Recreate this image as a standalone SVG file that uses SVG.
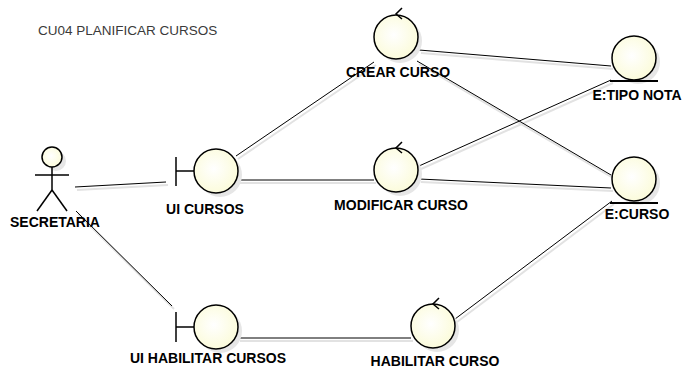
<svg xmlns="http://www.w3.org/2000/svg" width="683" height="372" viewBox="0 0 683 372">
<defs>
<radialGradient id="fillg" cx="0.45" cy="0.45" r="0.6">
<stop offset="0" stop-color="#ffffff"/>
<stop offset="1" stop-color="#fbfbd8"/>
</radialGradient>
</defs>
<style>
.lbl{font-family:"Liberation Sans",Arial,sans-serif;font-size:14px;font-weight:bold;fill:#000;text-anchor:middle}
.title{font-family:"Liberation Sans",Arial,sans-serif;font-size:13.5px;fill:#3a3a3a}
.shape{fill:url(#fillg);stroke:#000;stroke-width:1.5}
.shadow{fill:#e6e6e6;stroke:none}
.ln{stroke:#000;stroke-width:1;fill:none}
.lnsh{stroke:#e2e2e2;stroke-width:2;fill:none}
.st{stroke:#000;stroke-width:1.5;fill:none}
</style>
<rect width="683" height="372" fill="#fff"/>
<text class="title" x="38" y="35">CU04 PLANIFICAR CURSOS</text>
<g id="connectors">
<g transform="translate(2,3)">
<line class="lnsh" x1="75" y1="187" x2="166" y2="182"/>
<line class="lnsh" x1="76" y1="211" x2="172" y2="306"/>
<line class="lnsh" x1="236" y1="156" x2="374" y2="62"/>
<line class="lnsh" x1="238" y1="180" x2="374" y2="180"/>
<line class="lnsh" x1="419" y1="50" x2="611" y2="66"/>
<line class="lnsh" x1="417" y1="61" x2="611" y2="175"/>
<line class="lnsh" x1="419" y1="166" x2="611" y2="80"/>
<line class="lnsh" x1="419" y1="179" x2="611" y2="188"/>
<line class="lnsh" x1="238" y1="338" x2="411" y2="338"/>
<line class="lnsh" x1="455" y1="319" x2="612" y2="201"/>
</g>
<line class="ln" x1="75" y1="187" x2="166" y2="182"/>
<line class="ln" x1="76" y1="211" x2="172" y2="306"/>
<line class="ln" x1="236" y1="156" x2="374" y2="62"/>
<line class="ln" x1="238" y1="180" x2="374" y2="180"/>
<line class="ln" x1="419" y1="50" x2="611" y2="66"/>
<line class="ln" x1="417" y1="61" x2="611" y2="175"/>
<line class="ln" x1="419" y1="166" x2="611" y2="80"/>
<line class="ln" x1="419" y1="179" x2="611" y2="188"/>
<line class="ln" x1="238" y1="338" x2="411" y2="338"/>
<line class="ln" x1="455" y1="319" x2="612" y2="201"/>
</g>
<g id="secretaria">
<circle class="shadow" cx="56" cy="161" r="10"/>
<circle class="shape" cx="52" cy="157" r="10"/>
<line class="st" x1="52" y1="167" x2="52" y2="190"/>
<line class="st" x1="35" y1="175" x2="69" y2="175"/>
<line class="st" x1="52" y1="190" x2="37" y2="211"/>
<line class="st" x1="52" y1="190" x2="67" y2="211"/>
<text class="lbl" x="55" y="227">SECRETARIA</text>
</g>
<g id="ui-cursos">
<circle class="shadow" cx="220" cy="175" r="22"/>
<line class="st" x1="176" y1="157" x2="176" y2="186"/>
<line class="st" x1="176" y1="171" x2="194" y2="171"/>
<circle class="shape" cx="216" cy="171" r="22"/>
<text class="lbl" x="205" y="214">UI CURSOS</text>
</g>
<g id="crear-curso">
<circle class="shadow" cx="400" cy="41" r="22"/>
<circle class="shape" cx="396" cy="37" r="22"/>
<polyline class="st" points="402,8 396,14 402,19"/>
<text class="lbl" x="398" y="77">CREAR CURSO</text>
</g>
<g id="modificar-curso">
<circle class="shadow" cx="400" cy="174" r="22"/>
<circle class="shape" cx="396" cy="170" r="22"/>
<polyline class="st" points="402,142 396,148 402,153"/>
<text class="lbl" x="401" y="210">MODIFICAR CURSO</text>
</g>
<g id="tipo-nota">
<circle class="shadow" cx="638" cy="62" r="22"/>
<circle class="shape" cx="634" cy="58" r="22"/>
<line x1="610" y1="81" x2="658" y2="81" stroke="#000" stroke-width="2"/>
<text class="lbl" x="637" y="100">E:TIPO NOTA</text>
</g>
<g id="curso">
<circle class="shadow" cx="638" cy="183" r="22"/>
<circle class="shape" cx="634" cy="179" r="22"/>
<line x1="610" y1="203" x2="658" y2="203" stroke="#000" stroke-width="2"/>
<text class="lbl" x="637" y="219">E:CURSO</text>
</g>
<g id="ui-habilitar-cursos">
<circle class="shadow" cx="220" cy="331" r="22"/>
<line class="st" x1="176" y1="312" x2="176" y2="342"/>
<line class="st" x1="176" y1="327" x2="194" y2="327"/>
<circle class="shape" cx="216" cy="327" r="22"/>
<text class="lbl" x="208" y="363">UI HABILITAR CURSOS</text>
</g>
<g id="habilitar-curso">
<circle class="shadow" cx="437" cy="330" r="22"/>
<circle class="shape" cx="433" cy="326" r="22"/>
<polyline class="st" points="439,298 433,304 439,309"/>
<text class="lbl" x="435" y="366">HABILITAR CURSO</text>
</g>
</svg>
